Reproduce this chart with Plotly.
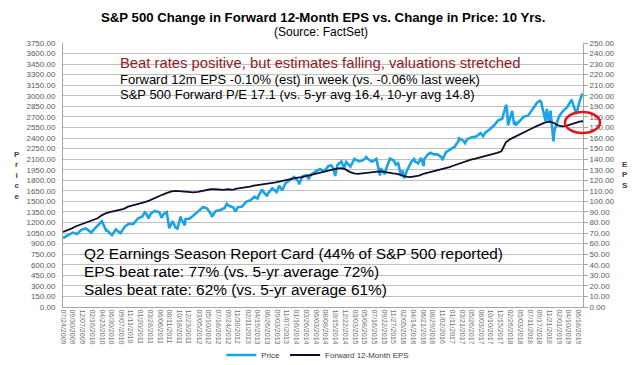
import plotly.graph_objects as go

# ---------------- data ----------------
price_dates = [
    "2009-07-24","2009-07-31","2009-08-31","2009-09-30","2009-10-30","2009-11-30","2009-12-31",
    "2010-01-29","2010-02-08","2010-02-26","2010-03-31","2010-04-23","2010-04-30","2010-05-25","2010-05-28",
    "2010-06-30","2010-07-02","2010-07-30","2010-08-26","2010-08-31","2010-09-30","2010-10-29","2010-11-30","2010-12-31",
    "2011-01-31","2011-02-18","2011-02-28","2011-03-16","2011-03-31","2011-04-29","2011-05-31","2011-06-15","2011-06-30",
    "2011-07-22","2011-08-08","2011-08-31","2011-09-22","2011-09-30","2011-10-03","2011-10-27","2011-10-31","2011-11-25",
    "2011-11-30","2011-12-30",
    "2012-01-31","2012-02-29","2012-03-30","2012-04-02","2012-04-30","2012-05-31","2012-06-01","2012-06-29","2012-07-31",
    "2012-08-31","2012-09-14","2012-09-28","2012-10-31","2012-11-15","2012-11-30","2012-12-31",
    "2013-01-31","2013-02-28","2013-03-28","2013-04-18","2013-04-30","2013-05-21","2013-05-31","2013-06-24","2013-06-28",
    "2013-07-31","2013-08-30","2013-09-18","2013-09-30","2013-10-08","2013-10-31","2013-11-29","2013-12-31",
    "2014-01-31","2014-02-03","2014-02-28","2014-03-31","2014-04-11","2014-04-30","2014-05-30","2014-06-30","2014-07-31",
    "2014-08-29","2014-09-18","2014-09-30","2014-10-15","2014-10-31","2014-11-28","2014-12-16","2014-12-31",
    "2015-01-30","2015-02-27","2015-03-31","2015-04-30","2015-05-21","2015-05-29","2015-06-30","2015-07-31","2015-08-25",
    "2015-08-31","2015-09-29","2015-09-30","2015-10-30","2015-11-03","2015-11-30","2015-12-14","2015-12-31",
    "2016-01-20","2016-01-29","2016-02-11","2016-02-29","2016-03-31","2016-04-20","2016-04-29","2016-05-19","2016-05-31",
    "2016-06-08","2016-06-27","2016-06-30","2016-07-29","2016-08-15","2016-08-31","2016-09-30","2016-10-31","2016-11-04",
    "2016-11-30","2016-12-30",
    "2017-01-31","2017-02-28","2017-03-01","2017-03-31","2017-04-13","2017-04-28","2017-05-31","2017-06-30","2017-07-31",
    "2017-08-18","2017-08-31","2017-09-29","2017-10-31","2017-11-30","2017-12-29",
    "2018-01-26","2018-01-31","2018-02-08","2018-02-28","2018-03-09","2018-03-23","2018-03-29","2018-04-02","2018-04-30",
    "2018-05-31","2018-06-29","2018-07-31","2018-08-31","2018-09-20","2018-09-28","2018-10-29","2018-10-31","2018-11-07",
    "2018-11-23","2018-11-30","2018-12-03","2018-12-24","2018-12-31",
    "2019-01-31","2019-02-28","2019-03-29","2019-04-30","2019-05-31","2019-06-03","2019-06-28","2019-07-12","2019-07-19",
]
price_values = [
    979, 987, 1021, 1057, 1036, 1096, 1115,
    1074, 1056, 1104, 1169, 1217, 1187, 1074, 1089,
    1031, 1022, 1102, 1047, 1049, 1141, 1183, 1181, 1258,
    1286, 1343, 1327, 1257, 1326, 1364, 1345, 1266, 1321,
    1345, 1119, 1219, 1129, 1131, 1099, 1285, 1253, 1159,
    1247, 1258,
    1312, 1366, 1408, 1419, 1398, 1310, 1278, 1362, 1379,
    1407, 1466, 1441, 1412, 1353, 1416, 1426,
    1498, 1515, 1569, 1541, 1598, 1669, 1631, 1573, 1606,
    1686, 1633, 1725, 1682, 1656, 1757, 1806, 1848,
    1783, 1742, 1859, 1872, 1815, 1884, 1924, 1960, 1931,
    2003, 2011, 1972, 1862, 2018, 2068, 1973, 2059,
    1995, 2105, 2068, 2086, 2131, 2107, 2063, 2104, 1868,
    1972, 1884, 1920, 2079, 2109, 2080, 2022, 2044,
    1859, 1940, 1829, 1932, 2060, 2102, 2065, 2040, 2097,
    2119, 2001, 2099, 2174, 2190, 2171, 2168, 2126, 2085,
    2199, 2239,
    2279, 2364, 2396, 2363, 2329, 2384, 2412, 2423, 2470,
    2426, 2472, 2519, 2575, 2648, 2674,
    2873, 2824, 2581, 2714, 2786, 2588, 2641, 2582, 2648,
    2705, 2718, 2816, 2902, 2931, 2914, 2641, 2712, 2814,
    2633, 2760, 2790, 2351, 2507,
    2704, 2784, 2834, 2946, 2752, 2744, 2942, 3014, 3004,
]

eps_years_months = [(2009, m) for m in range(7, 13)] + \
    [(y, m) for y in range(2010, 2019) for m in range(1, 13)] + [(2019, m) for m in range(1, 8)]
eps_dates = [f"{y}-{m:02d}-24" for (y, m) in eps_years_months]
eps_values = [
    71, 72.5, 74.5, 76.5, 78, 79,
    80.5, 82, 84, 87, 89, 90, 91, 92, 93, 95, 96, 97,
    98, 99.5, 101, 103, 105, 106.5, 108, 109.5, 110, 109.5, 109, 108.5,
    108.5, 109, 110, 111, 111.5, 111.5, 111, 111, 111.5, 111, 112, 112.5,
    113, 114, 115, 115.5, 116, 117, 117.5, 118, 119, 120, 121, 122,
    122.5, 123, 124, 125, 126, 127, 128, 129, 130, 131, 131.5, 130.5,
    128, 126.5, 126, 126.5, 127, 127.5, 128, 128.5, 128, 127, 126.5, 126,
    124.5, 123.5, 123, 123.5, 124.5, 126, 127, 128, 129, 130.5, 131, 132.5,
    134, 135.5, 137, 138.5, 139.5, 140.5, 141.5, 142.5, 143.5, 145, 146, 147.5,
    156, 159, 161, 163, 165, 167, 169, 171, 173, 174.5, 175.5, 174.5,
    172, 171, 171.5, 173, 174.5, 175.5, 176,
]

tick_dates = [
    "2009-07-24","2009-09-30","2009-12-07","2010-02-16","2010-04-23","2010-06-30","2010-09-07","2010-11-11",
    "2011-01-20","2011-03-28","2011-06-06","2011-08-11","2011-10-18","2011-12-23","2012-03-05","2012-05-10",
    "2012-07-18","2012-09-24","2012-11-30","2013-02-11","2013-04-19","2013-06-26","2013-09-03","2013-11-07",
    "2014-01-16","2014-03-26","2014-06-03","2014-08-08","2014-10-15","2014-12-22","2015-03-03","2015-05-08",
    "2015-07-16","2015-09-22","2015-11-27","2016-02-05","2016-04-14","2016-06-21","2016-08-29","2016-11-02",
    "2017-01-11","2017-03-21","2017-05-26","2017-08-03","2017-10-10","2017-12-15","2018-02-26","2018-05-03",
    "2018-07-11","2018-09-17","2018-11-21","2019-02-01","2019-04-10","2019-06-18",
]

title_text = "<b>S&P 500 Change in Forward 12-Month EPS vs. Change in Price: 10 Yrs.</b>"
subtitle_text = "(Source: FactSet)"
headline = "Beat rates positive, but estimates falling, valuations stretched"
note_lines = [
    "Forward 12m EPS -0.10% (est) in week (vs. -0.06% last week)",
    "S&P 500 Forward P/E 17.1 (vs. 5-yr avg 16.4, 10-yr avg 14.8)",
]
card_lines = [
    "Q2 Earnings Season Report Card (44% of S&P 500 reported)",
    "EPS beat rate: 77% (vs. 5-yr average 72%)",
    "Sales beat rate: 62% (vs. 5-yr average 61%)",
]

# ---------------- figure ----------------
# the page body has an 8px default margin, so the figure is laid out in
# screen pixels minus that offset
FONT = "Liberation Sans, Arial, sans-serif"
OFF = 8
W, H = 640 - OFF, 365 - OFF
PLOT_L, PLOT_R, PLOT_T, PLOT_B = 63, 583, 43, 307          # screen pixels
L, R, T, B = PLOT_L - OFF, W - (PLOT_R - OFF), PLOT_T - OFF, H - (PLOT_B - OFF)
PW, PH = W - L - R, H - T - B

def px_x(x):
    return (x - PLOT_L) / PW

def px_y(y):
    return (PLOT_B - y) / PH

fig = go.Figure()
fig.add_trace(go.Scatter(x=price_dates, y=price_values, name="Price", mode="lines",
                         line=dict(color="#1BA3E6", width=2.6), yaxis="y"))
fig.add_trace(go.Scatter(x=eps_dates, y=eps_values, name="Forward 12-Month EPS", mode="lines",
                         line=dict(color="#0E0E2C", width=1.8), yaxis="y2"))

grid = "#BFBFBF"
tickfont = dict(family=FONT, size=8, color="#595959")
fig.update_layout(
    width=W, height=H, margin=dict(l=L, r=R, t=T, b=B, autoexpand=False),
    paper_bgcolor="white", plot_bgcolor="white",
    font=dict(family=FONT),
    showlegend=True,
    legend=dict(orientation="h", x=0.49, xanchor="center", y=px_y(355), yanchor="middle",
                font=dict(family=FONT, size=8, color="#404040"), bgcolor="rgba(0,0,0,0)",
                itemwidth=30, tracegroupgap=0),
    xaxis=dict(type="date", range=["2009-07-24", "2019-07-19"], tickvals=tick_dates,
               tickformat="%m/%d/%Y", tickangle=90, tickfont=dict(family=FONT, size=7, color="#707070"),
               showgrid=False, showline=True, linecolor="#A6A6A6", linewidth=1,
               ticks="", zeroline=False, automargin=False),
    yaxis=dict(range=[0, 3750], dtick=150, tickformat=".2f", tickfont=tickfont,
               showgrid=True, gridcolor=grid, gridwidth=1, showline=True, linecolor="#A6A6A6",
               ticks="outside", ticklen=5, tickcolor="rgba(0,0,0,0)", zeroline=False, automargin=False),
    yaxis2=dict(range=[0, 250], dtick=10, tickformat=".2f", tickfont=tickfont, overlaying="y",
                side="right", showgrid=False, showline=True, linecolor="#A6A6A6",
                ticks="outside", ticklen=4, tickcolor="#A6A6A6", zeroline=False, automargin=False),
)

ann = []
ann.append(dict(text=title_text, x=px_x(323), y=px_y(17), font=dict(size=13.2, color="black")))
ann.append(dict(text=subtitle_text, x=px_x(321), y=px_y(32), font=dict(size=12, color="black")))
ann.append(dict(text=headline, x=px_x(118), y=px_y(63), xanchor="left",
                font=dict(size=14.8, color="#921A1F")))
for i, t in enumerate(note_lines):
    ann.append(dict(text=t, x=px_x(118), y=px_y(79 + 15 * i), xanchor="left",
                    font=dict(size=13, color="black")))
for i, t in enumerate(card_lines):
    ann.append(dict(text=t, x=px_x(82), y=px_y(253 + 18 * i), xanchor="left",
                    font=dict(size=15.4, color="black")))
ann.append(dict(text="<b>P<br>r<br>i<br>c<br>e</b>", x=px_x(17), y=px_y(175),
                font=dict(size=8, color="#404040")))
ann.append(dict(text="<b>E<br>P<br>S</b>", x=px_x(625), y=px_y(175),
                font=dict(size=8, color="#404040")))
for a in ann:
    a.setdefault("xanchor", "center")
    a.update(xref="paper", yref="paper", yanchor="middle", showarrow=False)
    a["font"]["family"] = FONT
fig.update_layout(annotations=ann)

fig.add_shape(type="circle", xref="paper", yref="paper",
              x0=px_x(565), x1=px_x(600), y0=px_y(133), y1=px_y(112),
              line=dict(color="#E8141C", width=2.5))

fig.write_html("out.html")
